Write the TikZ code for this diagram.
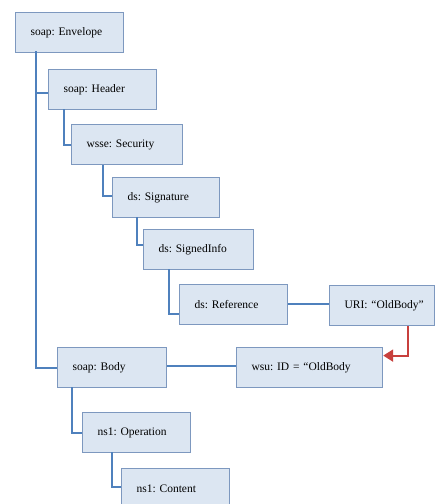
\documentclass[tikz,border=0pt]{standalone}
\usepackage{fontspec}
\setmainfont{Liberation Serif}
\usetikzlibrary{arrows.meta}
\definecolor{boxfill}{HTML}{DCE6F2}
\definecolor{boxline}{HTML}{7D98BF}
\definecolor{treeline}{HTML}{4F81BD}
\definecolor{refred}{HTML}{C8403D}
\tikzset{
  elem/.style n args={1}{draw=boxline, line width=1.2pt, fill=boxfill,
    anchor=north west, minimum height=40pt, inner xsep=15pt,
    text width=#1-30pt, align=left,
    font=\fontsize{11.5}{13}\selectfont\frenchspacing},
  tree/.style={draw=treeline, line width=2.2pt},
  link/.style={draw=refred, line width=2pt, -{Triangle[length=10pt,width=12pt]}}
}
\begin{document}
\begin{tikzpicture}[x=1pt,y=-1pt]
\useasboundingbox (0,0) rectangle (436,504);
\clip (0,0) rectangle (436,504);
\fill[white] (0,0) rectangle (436,504);

% where each parent's branch line leaves its box
\coordinate (envx) at (36,51);
\coordinate (hdrx) at (64,109);
\coordinate (secx) at (103,165);
\coordinate (sigx) at (137,217);
\coordinate (sinfx) at (169,269);
\coordinate (bodyx) at (72,387);
\coordinate (opx) at (112,452);

% element boxes
\node[elem=108pt] (env)  at (15,12)  {\mbox{soap: Envelope}};
\node[elem=108pt] (hdr)  at (48,69)  {\mbox{soap: Header}};
\node[elem=111pt] (sec)  at (71,124) {\mbox{wsse: Security}};
\node[elem=107pt] (sig)  at (112,177) {\mbox{ds: Signature}};
\node[elem=110pt] (sinf) at (143,229) {\mbox{ds: SignedInfo}};
\node[elem=108pt] (ref)  at (179,284) {\mbox{ds: Reference}};
\node[elem=105pt] (uri)  at (329,285) {\mbox{URI: “OldBody”}};
\node[elem=109pt] (body) at (57,347) {\mbox{soap: Body}};
\node[elem=146pt] (wsu)  at (236,347) {\mbox{wsu: ID = “OldBody}};
\node[elem=108pt] (op)   at (82,412) {\mbox{ns1: Operation}};
\node[elem=108pt] (cont) at (121,468) {\mbox{ns1: Content}};

% parent-child elbows
\draw[tree] (envx) |- ([yshift=-3pt]hdr.west);
\draw[tree] (envx) |- (body.west);
\draw[tree] (hdrx) |- (sec.west);
\draw[tree] (secx) |- ([yshift=2pt]sig.west);
\draw[tree] (sigx) |- ([yshift=5pt]sinf.west);
\draw[tree] (sinfx) |- ([yshift=-9pt]ref.west);
\draw[tree] (bodyx) |- (op.west);
\draw[tree] (opx) |- ([yshift=2pt]cont.west);

% same-level links
\draw[tree] ([yshift=1pt]ref.east) -- ([yshift=1pt]ref.east -| uri.west);
\draw[tree] ([yshift=2pt]body.east) -- ([yshift=2pt]body.east -| wsu.west);

% reference resolution arrow
\draw[link] ([xshift=-27pt]uri.south east) |- ([yshift=12pt]wsu.east);
\end{tikzpicture}
\end{document}
